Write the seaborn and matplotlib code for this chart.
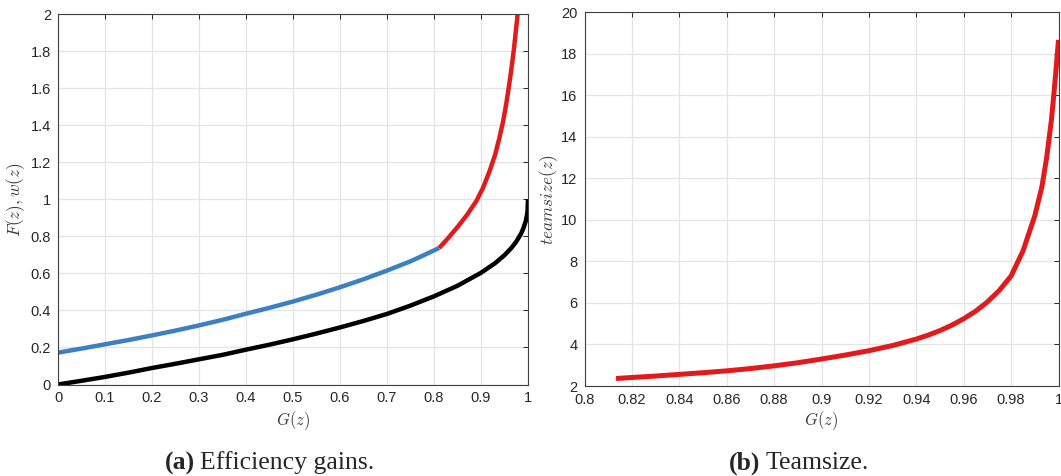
import pandas as pd
import seaborn as sns
import matplotlib.pyplot as plt
from matplotlib.ticker import FuncFormatter, MultipleLocator

# panel (a): efficiency gains, x = G(z)
g_blue = [0.0, 0.05, 0.1, 0.15, 0.2, 0.25, 0.3, 0.35, 0.4, 0.45, 0.5, 0.55, 0.6, 0.65, 0.7, 0.75, 0.78, 0.811]
w_blue = [0.172, 0.194, 0.217, 0.24, 0.265, 0.291, 0.319, 0.349, 0.382, 0.414, 0.448, 0.485, 0.525, 0.568, 0.615, 0.665, 0.70, 0.737]

g_red = [0.811, 0.83, 0.85, 0.87, 0.89, 0.904, 0.918, 0.93, 0.939, 0.947, 0.954, 0.96, 0.965, 0.97, 0.974, 0.978]
w_red = [0.737, 0.79, 0.85, 0.915, 0.99, 1.06, 1.15, 1.24, 1.33, 1.42, 1.52, 1.62, 1.71, 1.81, 1.905, 2.0]

g_black = [0.0, 0.05, 0.1, 0.15, 0.2, 0.25, 0.3, 0.35, 0.4, 0.45, 0.5, 0.55, 0.6, 0.65, 0.7, 0.75,
           0.8, 0.85, 0.9, 0.93, 0.95, 0.965, 0.975, 0.985, 0.99, 0.995, 0.998, 0.999, 1.0]
f_black = [0.0, 0.02, 0.041, 0.064, 0.089, 0.112, 0.136, 0.16, 0.188, 0.215, 0.244, 0.275, 0.308, 0.343, 0.381, 0.426,
           0.476, 0.533, 0.603, 0.655, 0.698, 0.738, 0.771, 0.813, 0.842, 0.88, 0.917, 0.937, 1.0]

# panel (b): teamsize
g_team = [0.8133, 0.82, 0.83, 0.84, 0.85, 0.86, 0.87, 0.88, 0.89, 0.9, 0.91, 0.92, 0.93, 0.94, 0.945, 0.95, 0.955,
          0.96, 0.965, 0.97, 0.975, 0.98, 0.985, 0.99, 0.993, 0.995, 0.997, 0.998, 0.999, 1.0]
teamsize = [2.36, 2.41, 2.48, 2.56, 2.64, 2.73, 2.84, 2.97, 3.12, 3.30, 3.49, 3.70, 3.95, 4.26, 4.45, 4.67, 4.93,
            5.24, 5.60, 6.05, 6.60, 7.30, 8.5, 10.2, 11.6, 13.0, 14.8, 16.0, 17.3, 18.67]

RED = '#e31a1c'
BLUE = '#3b80c2'
TXT = '#262626'
LBL = '#3c3c3c'

sns.set_theme(style='white')
plt.rcParams['font.family'] = ['Liberation Sans', 'DejaVu Sans']
plt.rcParams['mathtext.fontset'] = 'cm'

W, H = 1061, 476
fig = plt.figure(figsize=(W / 100, H / 100), dpi=100)
ax1 = fig.add_axes([58 / W, 1 - 384.5 / H, 470 / W, 370.5 / H])
ax2 = fig.add_axes([584.5 / W, 1 - 386 / H, 474 / W, 373.7 / H])

df_blue = pd.DataFrame({'G': g_blue, 'v': w_blue})
df_red = pd.DataFrame({'G': g_red, 'v': w_red})
df_black = pd.DataFrame({'G': g_black, 'v': f_black})
df_team = pd.DataFrame({'G': g_team, 'v': teamsize})

line_kw = dict(sort=False, solid_capstyle='butt', solid_joinstyle='round')
sns.lineplot(data=df_black, x='G', y='v', ax=ax1, color='black', lw=3.2, **line_kw)
sns.lineplot(data=df_blue, x='G', y='v', ax=ax1, color=BLUE, lw=3.2, **line_kw)
sns.lineplot(data=df_red, x='G', y='v', ax=ax1, color=RED, lw=3.2, **line_kw)
sns.lineplot(data=df_team, x='G', y='v', ax=ax2, color=RED, lw=3.6, **line_kw)

fmt = FuncFormatter(lambda v, p: '%g' % round(v, 4))

ax1.set_xlim(0, 1)
ax1.set_ylim(0, 2)
ax1.xaxis.set_major_locator(MultipleLocator(0.1))
ax1.yaxis.set_major_locator(MultipleLocator(0.2))
ax2.set_xlim(0.8, 1)
ax2.set_ylim(2, 20)
ax2.xaxis.set_major_locator(MultipleLocator(0.02))
ax2.yaxis.set_major_locator(MultipleLocator(2))

for ax in (ax1, ax2):
    ax.xaxis.set_major_formatter(fmt)
    ax.yaxis.set_major_formatter(fmt)
    ax.grid(True, color='#e4e4e4', lw=0.9)
    ax.set_axisbelow(True)
    ax.tick_params(direction='in', length=3.5, width=0.7, top=True, right=True,
                   labelsize=10.5, colors=TXT, pad=5)
    for s in ax.spines.values():
        s.set_color('#404040')
        s.set_linewidth(0.8)
    ax.set_xlabel(r'$G(z)$', fontsize=12, color=LBL)
    ax.xaxis.label.set_va('center')

ax1.set_ylabel(r'$F(z), w(z)$', fontsize=12.5, color=LBL, va='center')
ax2.set_ylabel(r'$teamsize(z)$', fontsize=12.5, color=LBL, va='center')
ax1.yaxis.set_label_coords((16 - 58) / 470, 0.5)
ax2.yaxis.set_label_coords((548.5 - 584.5) / 474, 0.5)
ax1.xaxis.set_label_coords(0.5, (384.5 - 420.5) / 370.5)
ax2.xaxis.set_label_coords(0.5, (386 - 420.5) / 373.7)

serif = ['Liberation Serif', 'DejaVu Serif']
cy = 1 - 463 / H
fig.text(195 / W, cy, '(a)', family=serif, fontweight='bold', fontsize=18.5, ha='right', va='center')
fig.text(200 / W, cy, 'Efficiency gains.', family=serif, fontsize=18.5, ha='left', va='center')
fig.text(760 / W, cy, '(b)', family=serif, fontweight='bold', fontsize=18.5, ha='right', va='center')
fig.text(766 / W, cy, 'Teamsize.', family=serif, fontsize=18.5, ha='left', va='center')

fig.savefig('out.png', dpi=100)
